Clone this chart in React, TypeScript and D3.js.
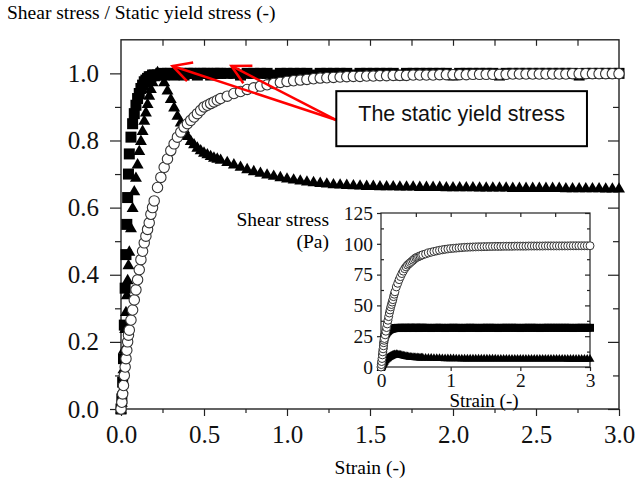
import { useEffect, useRef } from "react"
import * as d3 from "d3"

// strain steps shared by the three samples (-)
const strain = [
  0, 0.005, 0.01, 0.015, 0.02, 0.025, 0.03, 0.035, 0.04, 0.045, 0.05,
  0.06, 0.07, 0.08, 0.09, 0.10, 0.11, 0.12, 0.13, 0.14, 0.15, 0.16, 0.17, 0.18, 0.19, 0.20,
  0.22, 0.24, 0.26, 0.28, 0.30, 0.32, 0.34, 0.36, 0.38, 0.40,
  0.42, 0.44, 0.46, 0.48, 0.50, 0.52, 0.54, 0.56, 0.58, 0.60,
  0.64, 0.68, 0.72, 0.76, 0.80, 0.84, 0.88, 0.92, 0.96, 1.00,
  1.04, 1.08, 1.12, 1.16, 1.20, 1.24, 1.28, 1.32, 1.36, 1.40,
  1.44, 1.48, 1.52, 1.56, 1.60, 1.64, 1.68, 1.72, 1.76, 1.80,
  1.84, 1.88, 1.92, 1.96, 2.00, 2.04, 2.08, 2.12, 2.16, 2.20,
  2.24, 2.28, 2.32, 2.36, 2.40, 2.44, 2.48, 2.52, 2.56, 2.60,
  2.64, 2.68, 2.72, 2.76, 2.80, 2.84, 2.88, 2.92, 2.96, 3.00,
]

// shear stress / static yield stress, filled squares
const squareRatio = [
  0, 0.03, 0.08, 0.15, 0.25, 0.36, 0.46, 0.55, 0.63, 0.70, 0.76,
  0.81, 0.85, 0.88, 0.905, 0.925, 0.94, 0.955, 0.965, 0.975, 0.98, 0.985, 0.99, 0.99, 0.995, 0.995,
  0.995, 1.0, 0.995, 1.0, 1.0, 0.995, 1.0, 1.0, 0.995, 1.0,
  1.0, 1.0, 0.995, 1.0, 1.0, 1.0, 0.995, 1.0, 1.0, 1.0,
  1.0, 1.0, 0.995, 1.0, 1.0, 1.0, 1.0, 0.995, 1.0, 1.0,
  1.0, 1.0, 1.0, 0.995, 1.0, 1.0, 1.0, 1.0, 1.0, 0.995,
  1.0, 1.0, 1.0, 1.0, 1.0, 1.0, 0.995, 1.0, 1.0, 1.0,
  1.0, 1.0, 1.0, 1.0, 0.995, 1.0, 1.0, 1.0, 1.0, 1.0,
  1.0, 0.995, 1.0, 1.0, 1.0, 1.0, 1.0, 1.0, 1.0, 1.0,
  1.0, 1.0, 1.0, 0.995, 1.0, 1.0, 1.0, 1.0, 1.0, 1.0,
]

// filled triangles (overshoot then decay)
const triangleRatio = [
  0, 0.02, 0.06, 0.12, 0.18, 0.24, 0.29, 0.34, 0.385, 0.43, 0.47,
  0.54, 0.60, 0.65, 0.69, 0.73, 0.77, 0.80, 0.83, 0.86, 0.885, 0.91, 0.935, 0.955, 0.975, 0.99,
  1.005, 0.995, 0.975, 0.95, 0.925, 0.90, 0.875, 0.855, 0.835, 0.815,
  0.80, 0.79, 0.78, 0.772, 0.765, 0.76, 0.755, 0.75, 0.747, 0.744,
  0.737, 0.73, 0.723, 0.716, 0.71, 0.705, 0.70, 0.696, 0.692, 0.688,
  0.685, 0.682, 0.679, 0.677, 0.675, 0.673, 0.671, 0.67, 0.669, 0.668,
  0.667, 0.666, 0.666, 0.665, 0.665, 0.665, 0.664, 0.664, 0.664, 0.663,
  0.663, 0.663, 0.663, 0.662, 0.662, 0.662, 0.662, 0.662, 0.661, 0.661,
  0.661, 0.661, 0.661, 0.66, 0.66, 0.66, 0.66, 0.66, 0.66, 0.66,
  0.66, 0.659, 0.659, 0.659, 0.659, 0.659, 0.659, 0.658, 0.658, 0.658,
]

// open circles (slow rise)
const circleRatio = [
  0, 0.02, 0.045, 0.07, 0.10, 0.125, 0.15, 0.175, 0.20, 0.22, 0.235,
  0.265, 0.295, 0.325, 0.355, 0.385, 0.415, 0.445, 0.47, 0.495, 0.515, 0.535, 0.555, 0.58, 0.60, 0.62,
  0.66, 0.69, 0.72, 0.745, 0.77, 0.79, 0.81, 0.825, 0.84, 0.85,
  0.86, 0.87, 0.88, 0.89, 0.90, 0.905, 0.91, 0.915, 0.92, 0.925,
  0.932, 0.94, 0.946, 0.952, 0.957, 0.962, 0.966, 0.97, 0.973, 0.976,
  0.978, 0.98, 0.982, 0.984, 0.986, 0.987, 0.988, 0.989, 0.99, 0.991,
  0.991, 0.992, 0.992, 0.993, 0.993, 0.994, 0.994, 0.994, 0.995, 0.995,
  0.995, 0.995, 0.996, 0.996, 0.996, 0.996, 0.996, 0.997, 0.997, 0.997,
  0.997, 0.997, 0.997, 0.998, 0.998, 0.998, 0.998, 0.998, 0.998, 0.998,
  0.998, 0.998, 0.999, 0.999, 0.999, 0.999, 0.999, 0.999, 0.999, 0.999,
]

// static yield stress of each sample (Pa) -> inset shows the raw stress
const squareYield = 31.8
const triangleYield = 11
const circleYield = 98.5

const xTicks = [0, 0.5, 1, 1.5, 2, 2.5, 3]
const yTicks = [0, 0.2, 0.4, 0.6, 0.8, 1.0]
const insetXTicks = [0, 1, 2, 3]
const insetYTicks = [0, 25, 50, 75, 100, 125]

const yTitle = "Shear stress / Static yield stress (-)"
const xTitle = "Strain (-)"
const insetYTitle = ["Shear stress", "(Pa)"]
const noteText = "The static yield stress"
// arrow tips, in data units (strain, ratio)
const arrowTips = [[0.31, 1.022], [0.665, 1.022]]

export default function App() {
  const ref = useRef<SVGSVGElement>(null)

  useEffect(() => {
    const svg = d3.select(ref.current)
    svg.selectAll("*").remove()

    const serif = "'Liberation Serif', 'Times New Roman', serif"
    const sans = "'Liberation Sans', Arial, sans-serif"

    const x = d3.scaleLinear().domain([0, 3]).range([121, 619])
    const y = d3.scaleLinear().domain([0, 1.1]).range([409, 39.8])

    const pts = (vals: number[], k = 1) =>
      strain.map((s, i) => [s, vals[i] * k]).filter(d => d[1] !== undefined && !isNaN(d[1]))

    const styleAxis = (g: any, size: number) => {
      g.select(".domain").remove()
      g.attr("font-family", serif).attr("font-size", size)
      g.selectAll(".tick line").attr("stroke", "#222").attr("stroke-width", 1.2)
      g.selectAll(".tick text").attr("fill", "#111")
    }

    // title + x label
    svg.append("text").attr("x", 7).attr("y", 18.5)
      .style("font-family", serif).style("font-size", "19.5px").text(yTitle)
    svg.append("text").attr("x", 370).attr("y", 474).attr("text-anchor", "middle")
      .style("font-family", serif).style("font-size", "19.5px").text(xTitle)

    // main axes
    const minorY = d3.range(1, 11, 2).map(v => v / 10)
    const minorX = d3.range(1, 12, 2).map(v => v / 4)

    svg.append("g").attr("transform", "translate(121,0)")
      .call(d3.axisLeft(y).tickValues(yTicks).tickSize(11).tickSizeOuter(0).tickPadding(11).tickFormat(d3.format(".1f")))
      .call((g: any) => styleAxis(g, 25))
    svg.append("g").attr("transform", "translate(121,0)")
      .call(d3.axisLeft(y).tickValues(minorY).tickSize(6).tickSizeOuter(0).tickFormat(() => ""))
      .call((g: any) => styleAxis(g, 25))
    svg.append("g").attr("transform", "translate(0,409)")
      .call(d3.axisBottom(x).tickValues(xTicks).tickSize(7).tickSizeOuter(0).tickPadding(9).tickFormat(d3.format(".1f")))
      .call((g: any) => styleAxis(g, 25))
    svg.append("g").attr("transform", "translate(0,409)")
      .call(d3.axisBottom(x).tickValues(minorX).tickSize(4).tickSizeOuter(0).tickFormat(() => ""))
      .call((g: any) => styleAxis(g, 25))
    // top and right: inward ticks
    svg.append("g").attr("transform", "translate(0,39.8)")
      .call(d3.axisBottom(x).tickValues(d3.range(1, 12).map(v => v / 4)).tickSize(6).tickSizeOuter(0).tickFormat(() => ""))
      .call((g: any) => styleAxis(g, 25))
    svg.append("g").attr("transform", "translate(619,0)")
      .call(d3.axisLeft(y).tickValues(yTicks).tickSize(11).tickSizeOuter(0).tickFormat(() => ""))
      .call((g: any) => styleAxis(g, 25))
    svg.append("g").attr("transform", "translate(619,0)")
      .call(d3.axisLeft(y).tickValues(minorY).tickSize(6).tickSizeOuter(0).tickFormat(() => ""))
      .call((g: any) => styleAxis(g, 25))

    svg.append("rect")
      .attr("x", x(0)).attr("y", y(1.1))
      .attr("width", x(3) - x(0)).attr("height", y(0) - y(1.1))
      .attr("fill", "none").attr("stroke", "#222").attr("stroke-width", 1.4)

    // main data
    const plot = svg.append("g")
    const sq = 11
    plot.selectAll("rect.sq").data(pts(squareRatio)).join("rect")
      .attr("x", d => x(d[0]) - sq / 2).attr("y", d => y(d[1]) - sq / 2)
      .attr("width", sq).attr("height", sq).attr("fill", "#000")
    const tri = d3.symbol().type(d3.symbolTriangle).size(62)
    plot.selectAll("path.tri").data(pts(triangleRatio)).join("path")
      .attr("d", tri as any)
      .attr("transform", d => `translate(${x(d[0])},${y(d[1]) + 1})`).attr("fill", "#000")
    plot.selectAll("circle").data(pts(circleRatio)).join("circle")
      .attr("cx", d => x(d[0])).attr("cy", d => y(d[1])).attr("r", 5.2)
      .attr("fill", "#fff").attr("stroke", "#333").attr("stroke-width", 1.1)

    // ---- inset ----
    const ix = d3.scaleLinear().domain([0, 3]).range([381, 590])
    const iy = d3.scaleLinear().domain([0, 125]).range([367, 213])
    const inset = svg.append("g")
    inset.append("rect").attr("x", ix(0)).attr("y", iy(125))
      .attr("width", ix(3) - ix(0)).attr("height", iy(0) - iy(125))
      .attr("fill", "#fff").attr("stroke", "#222").attr("stroke-width", 1.2)

    const iMinorY = d3.range(0, 11).map(v => 12.5 * v + 12.5).filter(v => v < 125 && v % 25 !== 0)
    inset.append("g").attr("transform", `translate(${ix(0)},0)`)
      .call(d3.axisLeft(iy).tickValues(insetYTicks).tickSize(4).tickSizeOuter(0).tickPadding(4))
      .call((g: any) => styleAxis(g, 19.5))
    inset.append("g").attr("transform", `translate(${ix(0)},0)`)
      .call(d3.axisRight(iy).tickValues(iMinorY).tickSize(3).tickSizeOuter(0).tickFormat(() => ""))
      .call((g: any) => styleAxis(g, 19.5))
    inset.append("g").attr("transform", `translate(${ix(3)},0)`)
      .call(d3.axisLeft(iy).tickValues(insetYTicks).tickSize(5).tickSizeOuter(0).tickFormat(() => ""))
      .call((g: any) => styleAxis(g, 19.5))
    inset.append("g").attr("transform", `translate(${ix(3)},0)`)
      .call(d3.axisLeft(iy).tickValues(iMinorY).tickSize(3).tickSizeOuter(0).tickFormat(() => ""))
      .call((g: any) => styleAxis(g, 19.5))
    inset.append("g").attr("transform", `translate(0,${iy(125)})`)
      .call(d3.axisBottom(ix).tickValues(d3.range(1, 6).map(v => v / 2)).tickSize(4).tickSizeOuter(0).tickFormat(() => ""))
      .call((g: any) => styleAxis(g, 19.5))
    inset.append("g").attr("transform", `translate(0,${iy(0)})`)
      .call(d3.axisBottom(ix).tickValues(insetXTicks).tickSize(4).tickSizeOuter(0).tickPadding(2).tickFormat(d3.format("d")))
      .call((g: any) => styleAxis(g, 19.5))

    const isq = 8
    inset.selectAll("rect.isq").data(pts(squareRatio, squareYield)).join("rect")
      .attr("x", d => ix(d[0]) - isq / 2).attr("y", d => iy(d[1]) - isq / 2)
      .attr("width", isq).attr("height", isq).attr("fill", "#000")
    const itri = d3.symbol().type(d3.symbolTriangle).size(34)
    inset.selectAll("path.itri").data(pts(triangleRatio, triangleYield)).join("path")
      .attr("d", itri as any)
      .attr("transform", d => `translate(${ix(d[0])},${iy(d[1]) + 1})`).attr("fill", "#000")
    inset.selectAll("circle.ic").data(pts(circleRatio, circleYield)).join("circle")
      .attr("cx", d => ix(d[0])).attr("cy", d => iy(d[1])).attr("r", 4)
      .attr("fill", "#fff").attr("stroke", "#333").attr("stroke-width", 1)

    inset.append("text").attr("x", 329).attr("y", 226).attr("text-anchor", "end")
      .style("font-family", serif).style("font-size", "19.5px").text(insetYTitle[0])
    inset.append("text").attr("x", 329).attr("y", 248).attr("text-anchor", "end")
      .style("font-family", serif).style("font-size", "19.5px").text(insetYTitle[1])
    inset.append("text").attr("x", 484).attr("y", 407).attr("text-anchor", "middle")
      .style("font-family", serif).style("font-size", "19px").text(xTitle)

    // ---- annotation ----
    const bx0 = x(1.297), bx1 = x(2.807), by0 = y(0.947), by1 = y(0.783)
    const from = [bx0, y(0.861)]
    const red = "#ff0000"
    arrowTips.forEach(t => {
      const tip = [x(t[0]), y(t[1])]
      svg.append("line").attr("x1", from[0]).attr("y1", from[1]).attr("x2", tip[0]).attr("y2", tip[1])
        .attr("stroke", red).attr("stroke-width", 2.5)
      const a = Math.atan2(from[1] - tip[1], from[0] - tip[0])
      const spread = 28 * Math.PI / 180
      const len = 21
      const head = d3.line()([
        [tip[0] + len * Math.cos(a - spread), tip[1] + len * Math.sin(a - spread)],
        [tip[0], tip[1]],
        [tip[0] + len * Math.cos(a + spread), tip[1] + len * Math.sin(a + spread)],
      ])
      svg.append("path").attr("d", head).attr("fill", "none").attr("stroke", red)
        .attr("stroke-width", 2.5).attr("stroke-linejoin", "miter")
    })
    svg.append("rect").attr("x", bx0).attr("y", by0).attr("width", bx1 - bx0).attr("height", by1 - by0)
      .attr("fill", "#fff").attr("stroke", "#000").attr("stroke-width", 2)
    svg.append("text").attr("x", (bx0 + bx1) / 2).attr("y", by0 + 30).attr("text-anchor", "middle")
      .style("font-family", sans).style("font-size", "21.5px").attr("fill", "#111").text(noteText)
  }, [])

  return (
    <svg ref={ref} width={639} height={484}
      style={{ position: "absolute", left: 0, top: 0, background: "#fff" }} />
  )
}
